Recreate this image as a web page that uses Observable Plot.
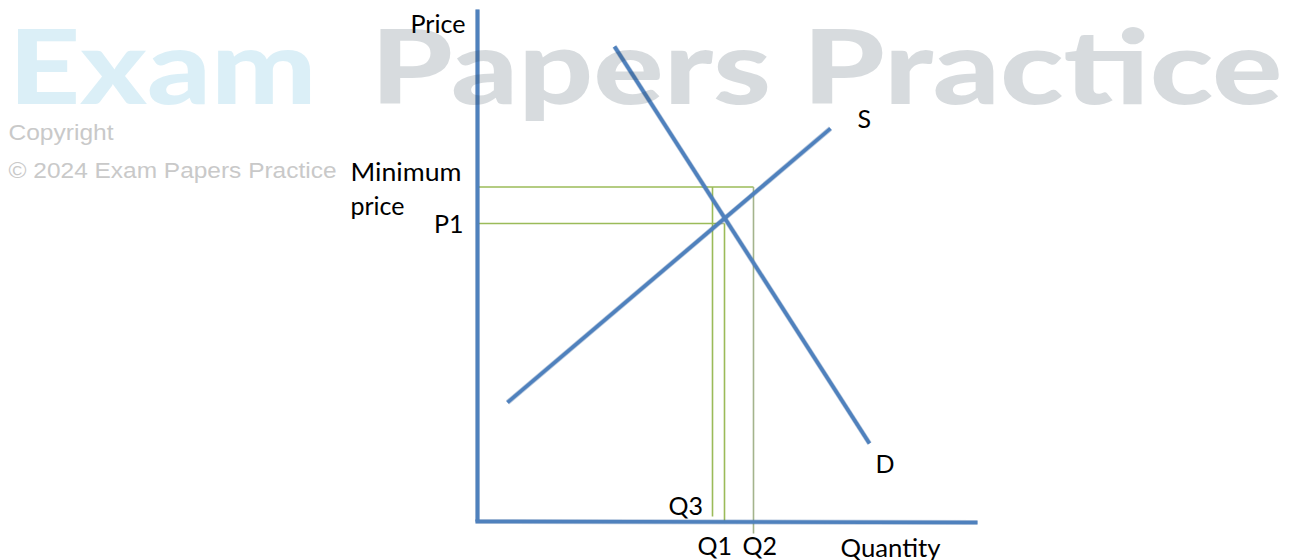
<!DOCTYPE html>
<html>
<head>
<meta charset="utf-8">
<script src="https://cdn.jsdelivr.net/npm/d3@7"></script>
<script src="https://cdn.jsdelivr.net/npm/@observablehq/plot@0.6"></script>
<style>
  html, body { margin: 0; padding: 0; background: #fff; }
  svg { display: block; }
</style>
</head>
<body>
<script>
// Curves (quantity, price) in chart units; origin at the axes corner
const demandQ = [137, 392];
const demandP = [475, 78];
const supplyQ = [30, 353];
const supplyP = [119, 393];
// axes extents
const axisQ = [-2, 500];
const axisP = [0, 512];
// key levels
const minPrice = 334.5;
const p1 = 298;
const q3 = 235;
const q1 = 247;
const q2 = 276;
// bottom ends of the quantity guide lines
const guideBottoms = [5, -1, -12];
// labels
const labels = ["Price", "Minimum", "price", "P1", "S", "D", "Q3", "Q1", "Q2", "Quantity"];
const labelQ = [-12, -127, -127, -14, 380, 398, 191, 220, 265, 363];
const labelP = [497, 349, 315, 297, 402, 57, 15, -25, -25, -27];
const labelAnchor = ["end", "start", "start", "end", "start", "start", "start", "start", "start", "start"];
// watermark
const wmWords = ["Exam", "Papers Practice"];
const wmQ = [-469, -107];
const wmP = [450, 450];
const wmColors = ["#3fa9d5", "#2c3e50"];
const copyLines = ["Copyright", "© 2024 Exam Papers Practice"];
const copyQ = [-469, -469];
const copyP = [389, 351];

const curves = [
  {x1: demandQ[0], y1: demandP[0], x2: demandQ[1], y2: demandP[1]},
  {x1: supplyQ[0], y1: supplyP[0], x2: supplyQ[1], y2: supplyP[1]},
  {x1: 0, y1: axisP[0], x2: 0, y2: axisP[1]},
  {x1: axisQ[0], y1: 0, x2: axisQ[1], y2: -1}
];
const guides = [
  {x1: 0, y1: minPrice, x2: q2, y2: minPrice, c: "#9bbb59"},
  {x1: 0, y1: p1, x2: q1 - 6, y2: p1, c: "#9bbb59"},
  {x1: q1 - 6, y1: p1, x2: q1, y2: p1, c: "#a9b59a"},
  {x1: q3, y1: minPrice, x2: q3, y2: guideBottoms[0], c: "#9bbb59"},
  {x1: q1, y1: p1, x2: q1, y2: guideBottoms[1], c: "#9bbb59"},
  {x1: q2, y1: minPrice, x2: q2, y2: guideBottoms[2], c: "#a4b48c"}
];
const labelData = labels.map((t, i) => ({t, x: labelQ[i], y: labelP[i], a: labelAnchor[i]}));
const wmData = wmWords.map((t, i) => ({t, x: wmQ[i], y: wmP[i], c: wmColors[i]}));
const copyData = copyLines.map((t, i) => ({t, x: copyQ[i], y: copyP[i]}));

const chart = Plot.plot({
  width: 1290,
  height: 560,
  margin: 0,
  x: {domain: [-477, 813], axis: null},
  y: {domain: [-39, 521], axis: null},
  marks: [
    Plot.link(guides, {x1: "x1", y1: "y1", x2: "x2", y2: "y2", stroke: d => d.c, strokeWidth: 1.6}),
    Plot.link(curves, {x1: "x1", y1: "y1", x2: "x2", y2: "y2", stroke: "#2f5f9e", strokeWidth: 5, strokeOpacity: 0.35}),
    Plot.link(curves, {x1: "x1", y1: "y1", x2: "x2", y2: "y2", stroke: "#4f81bd", strokeWidth: 3.6}),
    ...labelData.map(d => Plot.text([d], {x: "x", y: "y", text: "t", textAnchor: d.a, fontFamily: "Lato", fontSize: 25, fill: "#000"})),
    Plot.text(copyData, {x: "x", y: "y", text: "t", textAnchor: "start", fontFamily: "Liberation Sans", fontSize: 22, fill: "#c9c9c9"}),
    Plot.text(wmData, {x: "x", y: "y", text: "t", textAnchor: "start", fontFamily: "Lato", fontWeight: 900, fontSize: 102, fill: d => d.c, fillOpacity: 0.19})
  ]
});
document.body.appendChild(chart);

// stretch texts to the reference widths
const widths = {"Exam": 308, "Papers Practice": 912, "Copyright": 105, "© 2024 Exam Papers Practice": 328,
  "Minimum": 111, "Quantity": 100, "Price": 55};
d3.select(chart).selectAll("text").each(function() {
  const t = this.textContent;
  if (widths[t]) {
    this.setAttribute("textLength", widths[t]);
    this.setAttribute("lengthAdjust", "spacingAndGlyphs");
  }
});
</script>
</body>
</html>
